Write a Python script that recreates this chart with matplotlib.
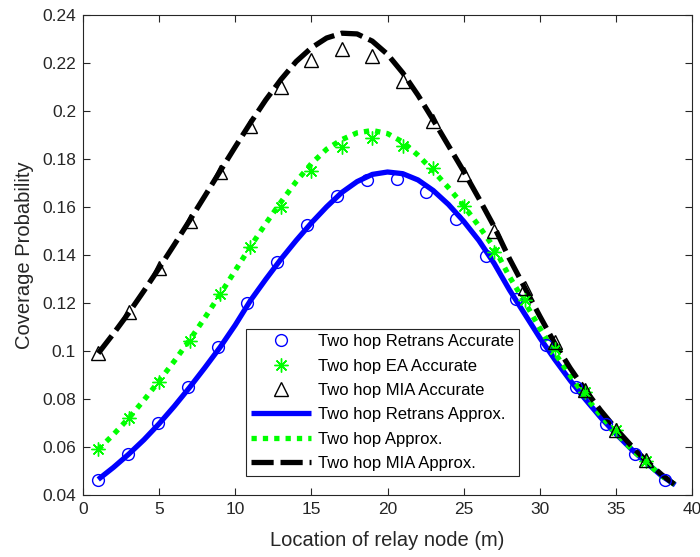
import matplotlib
matplotlib.use("Agg")
import matplotlib.pyplot as plt
from matplotlib.ticker import FixedLocator, FixedFormatter

plt.rcParams['font.family'] = ['Liberation Sans', 'DejaVu Sans']

# ---- data ----
x_line = [1, 2, 3, 4, 5, 6, 7, 8, 9, 10, 11, 12, 13, 14, 15, 16, 17, 18, 19, 20,
          21, 22, 23, 24, 25, 26, 27, 28, 29, 30, 31, 32, 33, 34, 35, 36, 37, 38, 38.9]

retrans_approx = [0.0465, 0.0515, 0.0570, 0.0630, 0.0697, 0.0770, 0.0848, 0.0930, 0.1015, 0.1108,
                  0.1210, 0.1298, 0.1382, 0.1460, 0.1533, 0.1600, 0.1660, 0.1705, 0.1735, 0.1745,
                  0.1738, 0.1712, 0.1668, 0.1610, 0.1540, 0.1460, 0.1365, 0.1255, 0.1155, 0.1055,
                  0.0963, 0.0877, 0.0798, 0.0723, 0.0655, 0.0592, 0.0535, 0.0480, 0.0442]

ea_approx = [0.0590, 0.0652, 0.0720, 0.0795, 0.0875, 0.0958, 0.1045, 0.1138, 0.1235, 0.1335,
             0.1435, 0.1530, 0.1620, 0.1705, 0.1780, 0.1840, 0.1880, 0.1908, 0.1918, 0.1905,
             0.1870, 0.1815, 0.1750, 0.1680, 0.1605, 0.1520, 0.1430, 0.1310, 0.1205, 0.1095,
             0.0990, 0.0897, 0.0810, 0.0732, 0.0660, 0.0593, 0.0535, 0.0480, 0.0442]

mia_approx = [0.0990, 0.1072, 0.1158, 0.1250, 0.1345, 0.1443, 0.1543, 0.1645, 0.1748, 0.1850,
              0.1950, 0.2045, 0.2130, 0.2205, 0.2262, 0.2303, 0.2323, 0.2320, 0.2290, 0.2235,
              0.2158, 0.2065, 0.1962, 0.1855, 0.1748, 0.1635, 0.1518, 0.1385, 0.1265, 0.1145,
              0.1030, 0.0928, 0.0836, 0.0752, 0.0676, 0.0606, 0.0542, 0.0485, 0.0442]

x_retrans_acc = [1, 2.96, 4.92, 6.88, 8.84, 10.8, 12.76, 14.72, 16.68, 18.64,
                 20.6, 22.56, 24.52, 26.48, 28.44, 30.4, 32.36, 34.32, 36.28, 38.24]
retrans_acc = [0.0462, 0.0571, 0.0700, 0.0850, 0.1015, 0.1198, 0.1369, 0.1523, 0.1644, 0.1710,
               0.1715, 0.1660, 0.1549, 0.1397, 0.1215, 0.1025, 0.0851, 0.0696, 0.0569, 0.0462]

x_acc = [1, 3, 5, 7, 9, 11, 13, 15, 17, 19, 21, 23, 25, 27, 29, 31, 33, 35, 37]
ea_acc = [0.0592, 0.0720, 0.0872, 0.1040, 0.1236, 0.1433, 0.1600, 0.1750, 0.1850, 0.1887,
          0.1852, 0.1762, 0.1602, 0.1410, 0.1210, 0.1010, 0.0830, 0.0670, 0.0540]
mia_acc = [0.0990, 0.1163, 0.1345, 0.1542, 0.1744, 0.1938, 0.2098, 0.2213, 0.2257, 0.2230,
           0.2125, 0.1959, 0.1737, 0.1500, 0.1260, 0.1038, 0.0838, 0.0670, 0.0546]

x_ticks = [0, 5, 10, 15, 20, 25, 30, 35, 40]
y_ticks = [0.04, 0.06, 0.08, 0.10, 0.12, 0.14, 0.16, 0.18, 0.20, 0.22, 0.24]
y_tick_labels = ['0.04', '0.06', '0.08', '0.1', '0.12', '0.14', '0.16', '0.18', '0.2', '0.22', '0.24']

labels = ['Two hop Retrans Accurate', 'Two hop EA Accurate', 'Two hop MIA Accurate',
          'Two hop Retrans Approx.', 'Two hop Approx.', 'Two hop MIA Approx.']

# ---- figure ----
fig = plt.figure(figsize=(7.0, 5.57), dpi=100)
ax = fig.add_axes([0.1186, 0.1113, 0.870, 0.8623])

lw = 3.8
star = (8, 2, 0)

h1, = ax.plot(x_retrans_acc, retrans_acc, linestyle='none', marker='o', markersize=8.5,
              markerfacecolor='none', markeredgecolor='#0000ff', markeredgewidth=1.0, zorder=4)
h2, = ax.plot(x_acc, ea_acc, linestyle='none', marker=star, markersize=10,
              markerfacecolor='none', markeredgecolor='#00ff00', markeredgewidth=1.0, zorder=4)
h3, = ax.plot(x_acc, mia_acc, linestyle='none', marker='^', markersize=10,
              markerfacecolor='none', markeredgecolor='black', markeredgewidth=1.0, zorder=4)
h4, = ax.plot(x_line, retrans_approx, color='#0000ff', linewidth=lw, solid_capstyle='butt', zorder=3)
h5, = ax.plot(x_line, ea_approx, color='#00ff00', linewidth=lw, linestyle=(0, (1.0, 1.15)),
              dash_capstyle='butt', zorder=3)
h6, = ax.plot(x_line, mia_approx, color='black', linewidth=lw, linestyle=(0, (4.2, 1.3)),
              dash_capstyle='butt', zorder=3)

ax.set_xlim(0, 40)
ax.set_ylim(0.04, 0.24)
ax.xaxis.set_major_locator(FixedLocator(x_ticks))
ax.yaxis.set_major_locator(FixedLocator(y_ticks))
ax.yaxis.set_major_formatter(FixedFormatter(y_tick_labels))
ax.tick_params(direction='in', length=5, width=0.8, top=True, right=True,
               labelsize=12.5, colors='#262626', pad=5)
for s in ax.spines.values():
    s.set_color('#262626')
    s.set_linewidth(0.8)

ax.set_xlabel('Location of relay node (m)', fontsize=14.5, color='#262626', labelpad=10)
ax.set_ylabel('Coverage Probability', fontsize=14.5, color='#262626', labelpad=6)

leg = ax.legend([h1, h2, h3, h4, h5, h6], labels, loc='lower left',
                bbox_to_anchor=(0.268, 0.0396), borderaxespad=0, fontsize=12,
                handlelength=3.6, handletextpad=0.4, labelspacing=0.56, borderpad=0.3,
                fancybox=False, edgecolor='#262626', framealpha=1)
leg.get_frame().set_linewidth(0.8)

fig.savefig('out.png', dpi=100, facecolor='white')
